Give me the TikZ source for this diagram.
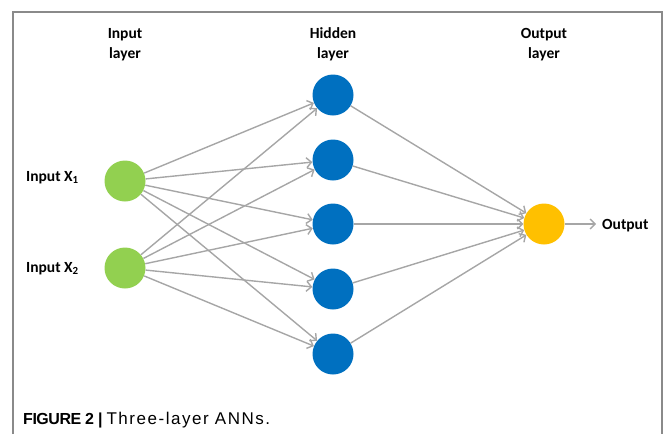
\documentclass[tikz,border=0pt]{standalone}
\usepackage{fontspec}
\setmainfont{Carlito}
\newfontfamily\capboldfont[LetterSpace=-3]{Liberation Sans Bold}
\newfontfamily\capregfont[LetterSpace=9]{Liberation Sans}
\usetikzlibrary{arrows.meta}
\definecolor{ingreen}{HTML}{92D050}
\definecolor{hidblue}{HTML}{0070C0}
\definecolor{outgold}{HTML}{FFC000}
\definecolor{arrowgray}{HTML}{A6A6A6}
\definecolor{framegray}{HTML}{8A8A8A}
\tikzset{
  neuron/.style={circle, inner sep=0pt, minimum size=41pt, draw=none},
  conn/.style={draw=arrowgray, line width=1.4pt, -{Straight Barb[length=5pt,width=10pt]}},
  lbl/.style={font=\bfseries\fontsize{15.5}{20}\selectfont, inner sep=0pt},
  layerlbl/.style={font=\bfseries\fontsize{15.5}{20}\selectfont, inner sep=0pt, align=center, anchor=base},
}
\begin{document}
\begin{tikzpicture}[x=1pt,y=-1pt]
\useasboundingbox (0,0) rectangle (663,434);
% frame
\draw[framegray, line width=1.2pt] (13,434) -- (13,12) -- (662,12) -- (662,434);
% layer labels
\node[layerlbl] (linput) at (125,58) {Input\\layer};
\node[layerlbl] (lhidden) at (333,58) {Hidden\\layer};
\node[layerlbl] (loutput) at (544,58) {Output\\layer};
% neurons
\node[neuron, fill=ingreen] (i1) at (125,181) {};
\node[neuron, fill=ingreen] (i2) at (125,268) {};
\foreach \k/\y in {1/95,2/160,3/224,4/289,5/354}{
  \node[neuron, fill=hidblue] (h\k) at (333,\y) {};
}
\node[neuron, fill=outgold] (o) at (544,224) {};
% input labels
\node[lbl, anchor=base west] (x1) at (26,181) {Input X\textsubscript{1}};
\node[lbl, anchor=base west] (x2) at (26,272) {Input X\textsubscript{2}};
\node[lbl, anchor=base west] (olbl) at (602,229) {Output};
% connections
\foreach \i in {1,2}{
  \foreach \k in {1,...,5}{
    \draw[conn] (i\i) -- (h\k);
  }
}
\foreach \k in {1,...,5}{
  \draw[conn] (h\k) -- (o);
}
\draw[conn, shorten >=6pt] (o) -- (olbl.west |- o);
% caption
\node[anchor=base west, inner sep=0pt] (cap) at (23,424) {{\capboldfont\fontsize{16}{18}\selectfont FIGURE 2 |\ }{\capregfont\fontsize{17}{18}\selectfont Three-layer ANNs.}};
\end{tikzpicture}
\end{document}
